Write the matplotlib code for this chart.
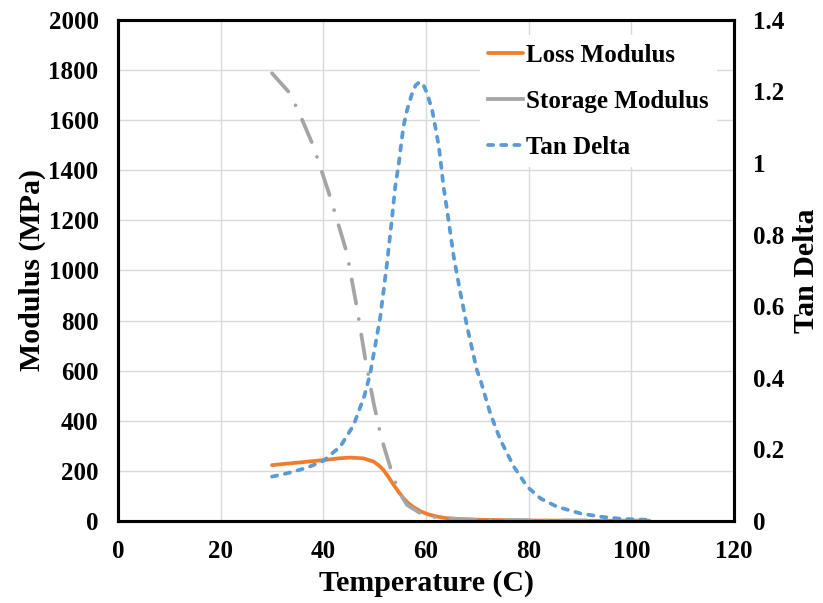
import matplotlib
matplotlib.use("Agg")
import matplotlib.pyplot as plt
from matplotlib.ticker import FuncFormatter

plt.rcParams["font.family"] = ["Liberation Serif", "DejaVu Serif"]
plt.rcParams["font.weight"] = "bold"

# storage modulus (MPa)
storage_t = [30, 33.5, 36, 38.1, 41.3, 44.6, 46.5, 48.2, 49.8, 50.6, 51.2, 52.1,
             53.6, 54.7, 56.3, 58.9, 60.8, 66, 70, 80, 90, 103.5]
storage_mod = [1787, 1707, 1595, 1494, 1295, 1069, 855, 643, 470, 396, 339, 277,
               177, 117, 64, 31, 17, 8, 5, 3, 2, 1]

# loss modulus (MPa)
loss_t = [30, 35, 40, 43, 45.2, 47.8, 49.8, 50.8, 51.7, 52.7, 53.7, 54.7, 55.6,
          56.6, 57.6, 58.9, 60.2, 62, 64.1, 67, 70, 80, 90, 103.5]
loss_mod = [223, 233, 243, 250, 253, 250, 237, 222, 204, 175, 144, 115, 91,
            70, 55, 39, 28, 18, 11, 7, 5, 2, 1, 1]

# tan delta (right axis)
tan_t = [30, 32, 34.2, 37, 40, 43.3, 45.9, 48, 49.1, 50.1, 51.1, 52.4, 53.4,
         54.0, 54.7, 55.1, 55.6, 56.3, 57.3, 58.0, 58.8, 59.5, 60.2, 61.2, 61.8,
         62.5, 62.9, 63.4, 64.1, 65.4, 66.7, 68, 69.9, 70.6, 72.5, 74.5, 77.1,
         79.7, 82.3, 85.5, 90.1, 94, 98, 103.5]
tan_delta = [0.124, 0.130, 0.138, 0.150, 0.168, 0.208, 0.268, 0.35, 0.41, 0.49,
             0.571, 0.72, 0.85, 0.934, 0.999, 1.046, 1.102, 1.148, 1.195, 1.218,
             1.227, 1.218, 1.195, 1.148, 1.102, 1.046, 0.999, 0.934, 0.869,
             0.738, 0.637, 0.543, 0.422, 0.394, 0.301, 0.226, 0.152, 0.096,
             0.063, 0.040, 0.021, 0.012, 0.006, 0.003]

x_ticks = [0, 20, 40, 60, 80, 100, 120]
left_ticks = [0, 200, 400, 600, 800, 1000, 1200, 1400, 1600, 1800, 2000]
right_ticks = [0, 0.2, 0.4, 0.6, 0.8, 1.0, 1.2, 1.4]

ORANGE = "#ED7D31"
GRAY = "#A5A5A5"
BLUE = "#5B9BD5"

fig = plt.figure(figsize=(8.23, 6.03), dpi=100)
ax = fig.add_axes([0.1434, 0.136, 0.7485, 0.831])
ax2 = ax.twinx()

l1, = ax.plot(loss_t, loss_mod, color=ORANGE, lw=2.7, label="Loss Modulus",
              solid_capstyle="round", solid_joinstyle="round")
l2, = ax.plot(storage_t, storage_mod, color=GRAY, lw=2.7, label="Storage Modulus",
              dashes=(6.5, 4.2, 0.01, 4.2), dash_capstyle="round",
              dash_joinstyle="round")
l3, = ax2.plot(tan_t, tan_delta, color=BLUE, lw=2.7, label="Tan Delta",
               dashes=(1.4, 2.1), dash_capstyle="round", dash_joinstyle="round")

ax.set_xlim(0, 120)
ax.set_ylim(0, 2000)
ax2.set_ylim(0, 1.4)
ax.set_xticks(x_ticks)
ax.set_yticks(left_ticks)
ax2.set_yticks(right_ticks)
ax2.yaxis.set_major_formatter(FuncFormatter(lambda v, p: f"{v:g}"))

ax.grid(True, color="#D9D9D9", lw=1.0)
ax.set_axisbelow(True)
for a in (ax, ax2):
    for s in a.spines.values():
        s.set_linewidth(2.2)
        s.set_color("black")
    a.tick_params(length=0, labelsize=18, pad=14)

ax.set_xlabel("Temperature (C)", fontsize=21.5, fontweight="bold", labelpad=5)
ax.set_ylabel("Modulus (MPa)", fontsize=21.5, fontweight="bold", labelpad=2)
ax2.set_ylabel("Tan Delta", fontsize=21.5, fontweight="bold", labelpad=6)

leg = ax2.legend(handles=[l1, l2, l3], loc="upper right", fontsize=18,
                 frameon=True, framealpha=1, edgecolor="none", fancybox=False,
                 handlelength=1.4, handletextpad=0.1, labelspacing=0.92,
                 borderaxespad=0.3, borderpad=0.35, bbox_to_anchor=(0.985, 0.985))
for h in leg.get_lines():
    if h.get_label() != "Tan Delta":
        h.set_linestyle("-")

fig.savefig("out.png", dpi=100)
